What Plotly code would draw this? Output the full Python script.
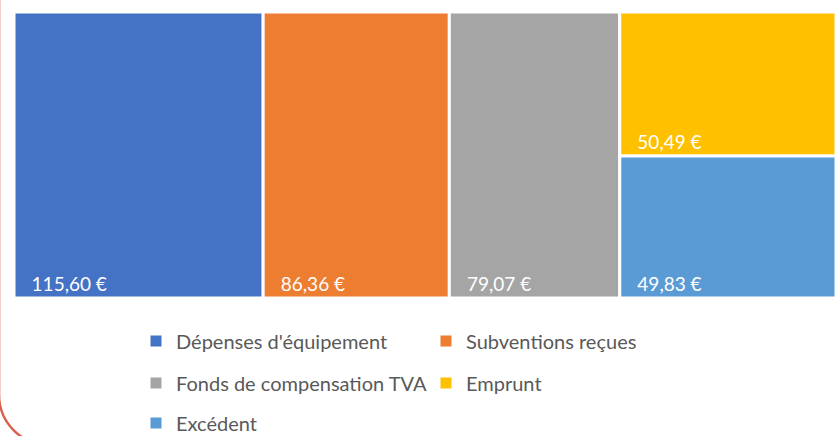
import plotly.graph_objects as go

categories = ["Dépenses d'équipement", "Subventions reçues", "Fonds de compensation TVA", "Emprunt", "Excédent"]
values = [115.60, 86.36, 79.07, 50.49, 49.83]
colors = ["#4472C4", "#ED7D31", "#A5A5A5", "#FFC000", "#5B9BD5"]

W, H = 836, 436
FONT = "Lato, 'Open Sans', sans-serif"

value_text = [f"{v:.2f}".replace(".", ",") + "\u00a0€" for v in values]

fig = go.Figure()
fig.add_trace(go.Treemap(
    labels=categories,
    parents=[""] * len(categories),
    values=values,
    text=value_text,
    texttemplate="\u00a0\u00a0\u00a0%{text}",
    textposition="bottom left",
    textfont=dict(family=FONT, size=19, color="white"),
    marker=dict(colors=colors, line=dict(width=3, color="white"), pad=dict(t=0, l=0, r=0, b=0)),
    tiling=dict(packing="squarify", squarifyratio=1, pad=0),
    pathbar=dict(visible=False),
    sort=True,
    hoverinfo="skip",
    domain=dict(x=[14 / W, 1], y=[1 - 298 / H, 1 - 12 / H]),
))

legend_rows = ["legend", "legend", "legend2", "legend2", "legend3"]
for name, col, lg in zip(categories, colors, legend_rows):
    fig.add_trace(go.Scatter(
        x=[None], y=[None], mode="markers", name=name,
        marker=dict(symbol="square", size=11, color=col),
        legend=lg, showlegend=True, hoverinfo="skip",
    ))

leg_common = dict(orientation="h", xanchor="left", yanchor="middle",
                  font=dict(family=FONT, size=20, color="#595959"),
                  entrywidth=245, bgcolor="rgba(0,0,0,0)", traceorder="normal")
lx = 136 / W
fig.update_layout(
    width=W, height=H,
    margin=dict(l=0, r=0, t=0, b=0, autoexpand=False),
    paper_bgcolor="white", plot_bgcolor="white",
    xaxis=dict(visible=False, range=[0, 1], domain=[0, 1]),
    yaxis=dict(visible=False, range=[0, 1], domain=[0, 1]),
    legend=dict(x=lx, y=1 - 341 / H, **leg_common),
    legend2=dict(x=lx, y=1 - 383 / H, **leg_common),
    legend3=dict(x=lx, y=1 - 423 / H, **leg_common),
    shapes=[dict(
        type="path", xref="paper", yref="paper",
        path=(f"M {-0.9 / W},{1 + 5 / H} L {-0.9 / W},{1 - 395 / H} "
              f"C {-0.9 / W},{1 - 422.6 / H} {21.5 / W},{1 - 445 / H} {49.1 / W},{1 - 445 / H} "
              f"L {900 / W},{1 - 445 / H}"),
        line=dict(color="#D9604B", width=2.4),
    )],
)

fig.write_html("out.html",
               config={"displayModeBar": False, "responsive": False},
               post_script="document.body.style.margin='0';document.documentElement.style.overflow='hidden';document.body.style.overflow='hidden';")
